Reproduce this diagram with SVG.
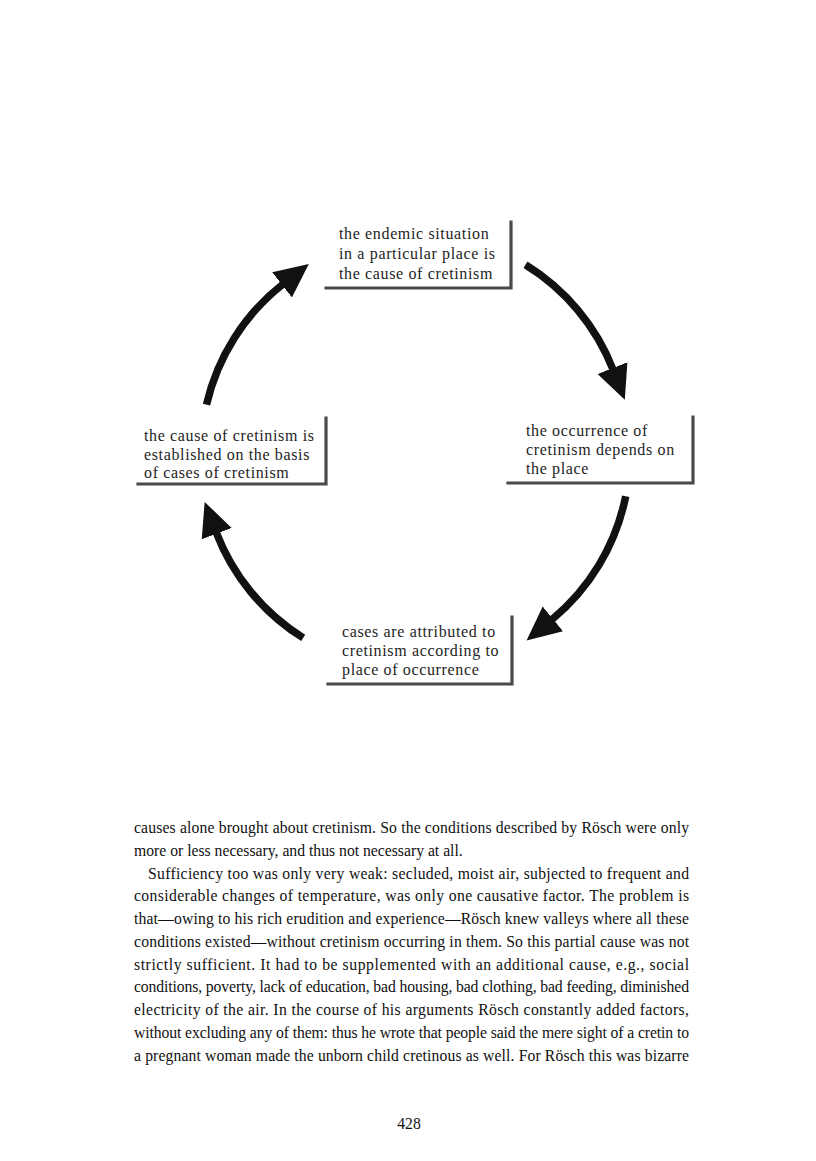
<svg xmlns="http://www.w3.org/2000/svg" width="816" height="1161" viewBox="0 0 816 1161">
<style>
.bg{fill:#ffffff}
.nt{font-family:"Liberation Serif","Times New Roman",serif;font-size:16px;letter-spacing:0.64px;fill:#1e1e1e}
.frame{fill:none;stroke:#4a4a4a;stroke-width:3.2;stroke-linecap:square}
.arc{fill:none;stroke:#111111;stroke-width:7.5;stroke-linecap:butt;marker-end:url(#head)}
.body{font-family:"Liberation Serif","Times New Roman",serif;font-size:15.7px;fill:#111111}
</style>
<defs>
<marker id="head" markerUnits="userSpaceOnUse" markerWidth="44" markerHeight="44" viewBox="0 -22 44 44" refX="2" refY="0" orient="auto">
<path d="M0,-16 L34,0 L0,16 Z" fill="#111111"/>
</marker>
</defs>
<rect class="bg" x="0" y="0" width="816" height="1161"/>

<g id="node-top">
<path class="frame" d="M511,222 L511,288 L326,288"/>
<text class="nt" x="339" y="239">the endemic situation</text>
<text class="nt" x="339" y="259">in a particular place is</text>
<text class="nt" x="339" y="279">the cause of cretinism</text>
</g>

<g id="node-right">
<path class="frame" d="M693,417 L693,483 L508,483"/>
<text class="nt" x="526" y="436">the occurrence of</text>
<text class="nt" x="526" y="455">cretinism depends on</text>
<text class="nt" x="526" y="474">the place</text>
</g>

<g id="node-bottom">
<path class="frame" d="M512,617 L512,684 L328,684"/>
<text class="nt" x="342" y="637">cases are attributed to</text>
<text class="nt" x="342" y="656">cretinism according to</text>
<text class="nt" x="342" y="675">place of occurrence</text>
</g>

<g id="node-left">
<path class="frame" d="M326,418 L326,484 L138,484"/>
<text class="nt" x="144" y="441">the cause of cretinism is</text>
<text class="nt" x="144" y="460">established on the basis</text>
<text class="nt" x="144" y="478">of cases of cretinism</text>
</g>

<g id="connectors">
<path class="arc" d="M206.5,404.6 A215,215 0 0 1 283.6,283.6"/>
<path class="arc" d="M525.5,264.8 A215,215 0 0 1 613.2,370"/>
<path class="arc" d="M625.7,496.3 A215,215 0 0 1 551.3,620.1"/>
<path class="arc" d="M303.2,637.9 A215,215 0 0 1 216,531.8"/>
</g>

<g id="body-text">
<text class="body" x="134" y="833" textLength="555" lengthAdjust="spacing">causes alone brought about cretinism. So the conditions described by Rösch were only</text>
<text class="body" x="134" y="855.75">more or less necessary, and thus not necessary at all.</text>
<text class="body" x="148" y="878.5" textLength="541" lengthAdjust="spacing">Sufficiency too was only very weak: secluded, moist air, subjected to frequent and</text>
<text class="body" x="134" y="901.25" textLength="555" lengthAdjust="spacing">considerable changes of temperature, was only one causative factor. The problem is</text>
<text class="body" x="134" y="924" textLength="555" lengthAdjust="spacing">that—owing to his rich erudition and experience—Rösch knew valleys where all these</text>
<text class="body" x="134" y="946.75" textLength="555" lengthAdjust="spacing">conditions existed—without cretinism occurring in them. So this partial cause was not</text>
<text class="body" x="134" y="969.5" textLength="555" lengthAdjust="spacing">strictly sufficient. It had to be supplemented with an additional cause, e.g., social</text>
<text class="body" x="134" y="992.25" textLength="555" lengthAdjust="spacing">conditions, poverty, lack of education, bad housing, bad clothing, bad feeding, diminished</text>
<text class="body" x="134" y="1015" textLength="555" lengthAdjust="spacing">electricity of the air. In the course of his arguments Rösch constantly added factors,</text>
<text class="body" x="134" y="1037.75" textLength="555" lengthAdjust="spacing">without excluding any of them: thus he wrote that people said the mere sight of a cretin to</text>
<text class="body" x="134" y="1060.5" textLength="555" lengthAdjust="spacing">a pregnant woman made the unborn child cretinous as well. For Rösch this was bizarre</text>
<text class="body" x="409" y="1129" text-anchor="middle">428</text>
</g>
</svg>
